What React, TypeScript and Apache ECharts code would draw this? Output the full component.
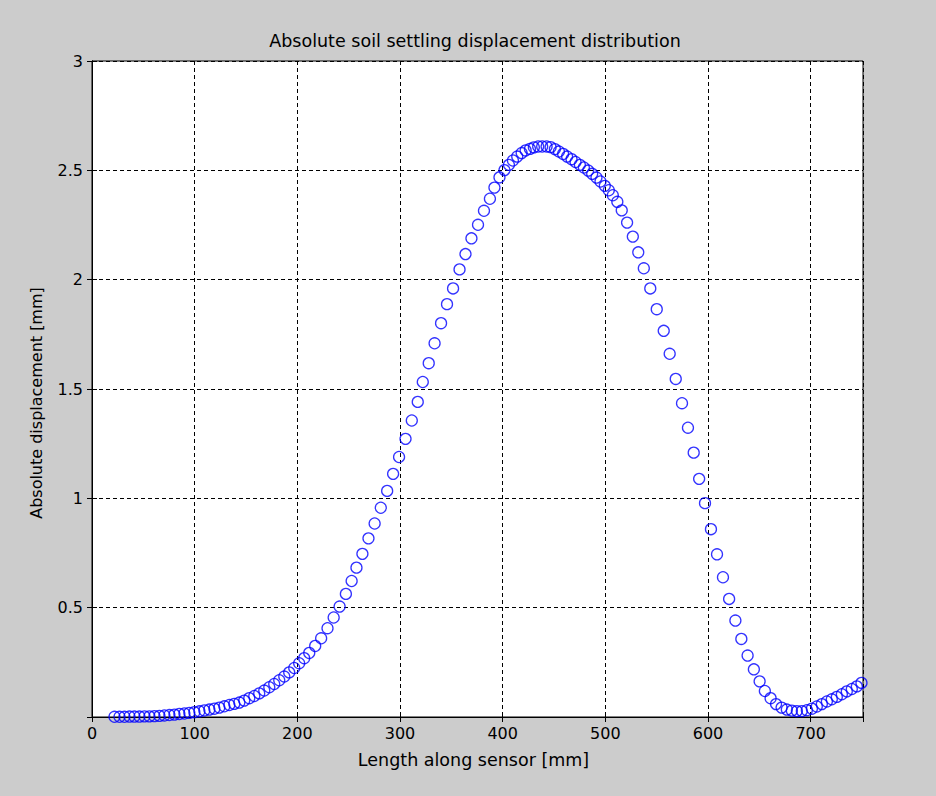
import React, { useEffect, useRef } from "react";
import * as echarts from "echarts";

const titleText = "Absolute soil settling displacement distribution";
const xAxisName = "Length along sensor [mm]";
const yAxisName = "Absolute displacement [mm]";

// Length along sensor [mm]
const lengthMm = [
  21.9, 26.8, 31.6, 36.5, 41.3, 46.2, 51.1, 55.9, 60.8, 65.7,
  70.5, 75.4, 80.3, 85.1, 90.0, 94.8, 99.7, 104.6, 109.4, 114.3,
  119.2, 124.0, 128.9, 133.8, 138.6, 143.5, 148.3, 153.2, 158.1, 162.9,
  167.8, 172.7, 177.5, 182.4, 187.3, 192.1, 197.0, 201.8, 206.7, 211.6,
  217.4, 223.2, 229.4, 235.4, 241.2, 247.3, 252.9, 257.6, 263.4, 269.3,
  275.3, 281.3, 287.5, 293.3, 299.1, 305.4, 311.5, 317.3, 322.2, 328.0,
  333.7, 340.0, 345.8, 351.7, 358.0, 363.8, 369.6, 376.0, 381.8, 387.6,
  392.0, 396.9, 401.8, 406.1, 410.0, 414.2, 418.5, 422.4, 426.6, 430.4,
  434.6, 438.5, 442.8, 446.7, 450.9, 454.8, 458.9, 462.8, 467.1, 471.0,
  475.2, 479.1, 483.3, 487.2, 491.4, 495.3, 499.5, 503.4, 507.3, 511.7,
  516.0, 521.2, 526.8, 532.1, 537.5, 543.8, 550.1, 556.9, 562.7, 568.6,
  574.7, 580.5, 586.1, 591.4, 597.1, 602.9, 608.8, 614.6, 620.6, 626.7,
  632.5, 638.6, 644.7, 650.3, 655.4, 661.0, 666.3, 671.7, 676.8, 681.7,
  686.6, 691.4, 696.3, 701.2, 706.0, 710.9, 715.8, 720.6, 725.5, 730.4,
  735.2, 740.1, 745.0, 749.5,
];

// Absolute displacement [mm]
const displacementMm = [
  0.001, 0.001, 0.001, 0.002, 0.002, 0.002, 0.003, 0.003, 0.004, 0.005,
  0.007, 0.009, 0.011, 0.014, 0.016, 0.019, 0.022, 0.026, 0.030, 0.034,
  0.038, 0.043, 0.049, 0.055, 0.060, 0.066, 0.075, 0.086, 0.096, 0.108,
  0.121, 0.136, 0.151, 0.168, 0.185, 0.204, 0.224, 0.246, 0.269, 0.293,
  0.325, 0.360, 0.406, 0.455, 0.505, 0.563, 0.622, 0.683, 0.746, 0.817,
  0.885, 0.957, 1.034, 1.112, 1.189, 1.272, 1.356, 1.441, 1.532, 1.618,
  1.709, 1.801, 1.888, 1.960, 2.047, 2.117, 2.189, 2.251, 2.315, 2.370,
  2.421, 2.468, 2.501, 2.525, 2.545, 2.563, 2.579, 2.591, 2.598, 2.605,
  2.609, 2.609, 2.609, 2.606, 2.597, 2.586, 2.575, 2.563, 2.551, 2.538,
  2.525, 2.513, 2.499, 2.484, 2.467, 2.449, 2.429, 2.409, 2.386, 2.356,
  2.317, 2.261, 2.197, 2.125, 2.052, 1.960, 1.865, 1.766, 1.661, 1.546,
  1.435, 1.323, 1.209, 1.089, 0.978, 0.859, 0.744, 0.639, 0.540, 0.441,
  0.357, 0.281, 0.218, 0.163, 0.119, 0.086, 0.059, 0.043, 0.034, 0.029,
  0.027, 0.027, 0.031, 0.038, 0.048, 0.059, 0.071, 0.081, 0.092, 0.104,
  0.117, 0.128, 0.140, 0.156,
];

const xTicks = [0, 100, 200, 300, 400, 500, 600, 700];
const yTickLabels = ["0.5", "1", "1.5", "2", "2.5", "3"];

const FONT = "DejaVu Sans";

export default function App() {
  const ref = useRef<HTMLDivElement>(null);

  useEffect(() => {
    if (!ref.current) return;
    const chart = echarts.init(ref.current, undefined, { renderer: "svg" });
    const data = lengthMm.map((x, i) => [x, displacementMm[i]]);
    const xMax = 751;
    const gridDash = {
      show: true,
      lineStyle: { color: "#000", width: 1, type: [4, 3] as any },
    };
    const tickText = { color: "#000", fontFamily: FONT, fontSize: 16 };
    const labelText = { color: "#000", fontFamily: FONT, fontSize: 17.5 };
    chart.setOption({
      animation: false,
      backgroundColor: "#cccccc",
      title: {
        text: titleText,
        left: 470,
        top: 27,
        textAlign: "center",
        textStyle: { color: "#000", fontFamily: FONT, fontSize: 17.5, fontWeight: "normal" },
      },
      grid: {
        left: 92,
        top: 61,
        width: 771,
        height: 656,
        show: true,
        backgroundColor: "#ffffff",
        borderColor: "#000",
        borderWidth: 1,
      },
      xAxis: [
        {
          type: "value",
          min: 0,
          max: xMax,
          interval: 100,
          position: "bottom",
          name: xAxisName,
          nameLocation: "middle",
          nameGap: 34,
          nameTextStyle: { ...labelText, padding: [0, 8, 0, 0] },
          axisLine: { show: true, lineStyle: { color: "#000" } },
          axisTick: { show: true, inside: true, length: 5, lineStyle: { color: "#000" } },
          axisLabel: {
            ...tickText,
            margin: 8,
            formatter: (v: number) => (xTicks.includes(v) ? String(v) : ""),
          },
          splitLine: gridDash,
        },
        {
          type: "value",
          min: 0,
          max: xMax,
          interval: 100,
          position: "top",
          axisLine: { show: true, lineStyle: { color: "#000" } },
          axisTick: { show: true, inside: true, length: 5, lineStyle: { color: "#000" } },
          axisLabel: { show: false },
          splitLine: { show: false },
        },
      ],
      yAxis: [
        {
          type: "value",
          min: 0,
          max: 3,
          interval: 0.5,
          position: "left",
          name: yAxisName,
          nameLocation: "middle",
          nameGap: 48,
          nameRotate: 90,
          nameTextStyle: { ...labelText, fontSize: 16, padding: [0, 28, 0, 0] },
          axisLine: { show: true, lineStyle: { color: "#000" } },
          axisTick: { show: true, inside: true, length: 5, lineStyle: { color: "#000" } },
          axisLabel: {
            ...tickText,
            margin: 9,
            formatter: (v: number) => {
              const s = String(v);
              return yTickLabels.includes(s) ? s : "";
            },
          },
          splitLine: gridDash,
        },
        {
          type: "value",
          min: 0,
          max: 3,
          interval: 0.5,
          position: "right",
          axisLine: { show: true, lineStyle: { color: "#000" } },
          axisTick: { show: true, inside: true, length: 5, lineStyle: { color: "#000" } },
          axisLabel: { show: false },
          splitLine: { show: false },
        },
      ],
      series: [
        {
          type: "scatter",
          xAxisIndex: 0,
          yAxisIndex: 0,
          data,
          clip: false,
          symbol: "circle",
          symbolSize: 11,
          itemStyle: {
            color: "rgba(0,0,0,0)",
            borderColor: "#0000ff",
            borderWidth: 1.3,
          },
          emphasis: { disabled: true },
        },
      ],
    });
    return () => chart.dispose();
  }, []);

  return (
    <div
      ref={ref}
      style={{ position: "fixed", left: 0, top: 0, width: 936, height: 796 }}
    />
  );
}
